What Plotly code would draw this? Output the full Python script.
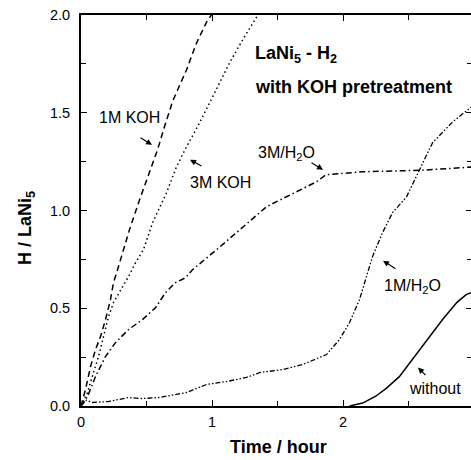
import plotly.graph_objects as go

# ---- data ----
koh1_t = [0.0, 0.034, 0.073, 0.111, 0.149, 0.187, 0.225, 0.248, 0.279, 0.324, 0.370, 0.447, 0.523, 0.584, 0.637, 0.70, 0.805, 0.882, 0.966, 0.996]
koh1_h = [0.0, 0.084, 0.202, 0.289, 0.355, 0.442, 0.544, 0.631, 0.697, 0.800, 0.902, 1.055, 1.193, 1.310, 1.428, 1.56, 1.719, 1.857, 1.974, 2.0]

koh3_t = [0.0, 0.05, 0.095, 0.134, 0.172, 0.210, 0.248, 0.317, 0.363, 0.416, 0.477, 0.546, 0.653, 0.729, 0.805, 0.905, 1.034, 1.134, 1.233, 1.340, 1.35]
koh3_h = [0.0, 0.069, 0.171, 0.253, 0.355, 0.457, 0.529, 0.610, 0.662, 0.733, 0.800, 0.937, 1.091, 1.224, 1.325, 1.448, 1.617, 1.755, 1.872, 1.990, 2.0]

h2o3_t = [0.0, 0.05, 0.111, 0.187, 0.263, 0.363, 0.469, 0.569, 0.645, 0.721, 0.798, 0.851, 1.034, 1.210, 1.416, 1.492, 1.668, 1.798, 1.870, 2.027, 2.149, 2.599, 2.98]
h2o3_h = [0.0, 0.049, 0.151, 0.253, 0.324, 0.391, 0.442, 0.503, 0.580, 0.631, 0.656, 0.697, 0.799, 0.902, 1.019, 1.045, 1.106, 1.147, 1.183, 1.193, 1.198, 1.206, 1.222]

h2o1_t = [0.0, 0.04, 0.088, 0.21, 0.363, 0.469, 0.592, 0.721, 0.805, 0.958, 1.111, 1.263, 1.363, 1.538, 1.691, 1.874, 1.973, 2.050, 2.126, 2.179, 2.225, 2.302, 2.378, 2.485, 2.584, 2.683, 2.836, 2.98]
h2o1_h = [0.0, 0.03, 0.018, 0.023, 0.043, 0.038, 0.043, 0.059, 0.069, 0.110, 0.125, 0.146, 0.171, 0.186, 0.212, 0.263, 0.340, 0.427, 0.544, 0.662, 0.764, 0.887, 0.989, 1.070, 1.208, 1.346, 1.453, 1.53]

wo_t = [2.05, 2.15, 2.25, 2.33, 2.43, 2.53, 2.66, 2.76, 2.87, 2.94, 2.98]
wo_h = [0.0, 0.015, 0.05, 0.09, 0.15, 0.237, 0.355, 0.442, 0.53, 0.57, 0.58]

y_tickvals = [0.0, 0.5, 1.0, 1.5, 2.0]
y_ticktext = ["0.0", "0.5", "1.0", "1.5", "2.0"]
x_tickvals = [0, 1, 2]
x_ticktext = ["0", "1", "2"]

FONT = "Liberation Sans, Arial, Helvetica, sans-serif"

fig = go.Figure()
lw = 1.5
fig.add_trace(go.Scatter(x=koh1_t, y=koh1_h, mode="lines", line=dict(color="black", width=lw, dash="6px,4px"), showlegend=False))
fig.add_trace(go.Scatter(x=koh3_t, y=koh3_h, mode="lines", line=dict(color="black", width=lw, dash="1.5px,3px"), showlegend=False))
fig.add_trace(go.Scatter(x=h2o3_t, y=h2o3_h, mode="lines", line=dict(color="black", width=lw, dash="6px,3px,1.5px,3px"), showlegend=False))
fig.add_trace(go.Scatter(x=h2o1_t, y=h2o1_h, mode="lines", line=dict(color="black", width=1.3, dash="5px,2px,1.5px,2px,1.5px,2px"), showlegend=False))
fig.add_trace(go.Scatter(x=wo_t, y=wo_h, mode="lines", line=dict(color="black", width=lw), showlegend=False))
# carrier for the right-hand tick axis
fig.add_trace(go.Scatter(x=[None], y=[None], yaxis="y2", showlegend=False, hoverinfo="skip"))

fig.update_layout(
    width=471, height=460,
    margin=dict(l=81, r=0, t=15, b=54),
    paper_bgcolor="white", plot_bgcolor="white",
    font=dict(family=FONT, color="black", size=14),
    xaxis=dict(range=[0, 2.977], showgrid=False, zeroline=False,
               showline=True, linecolor="black", linewidth=2, mirror="ticks",
               ticks="inside", ticklen=6, tickwidth=1.2, tickcolor="black",
               tickvals=x_tickvals, ticktext=x_ticktext,
               tickfont=dict(size=14.5, family=FONT), ticklabelstandoff=2,
               minor=dict(ticks="inside", ticklen=5, tickwidth=1.2, tickcolor="black", dtick=0.5, tick0=0)),
    yaxis=dict(range=[0, 2.0], showgrid=False, zeroline=False,
               showline=True, linecolor="black", linewidth=2, mirror=False,
               ticks="inside", ticklen=6, tickwidth=1.2, tickcolor="black",
               tickvals=y_tickvals, ticktext=y_ticktext,
               tickfont=dict(size=14.5, family=FONT), ticklabelstandoff=6,
               minor=dict(ticks="inside", ticklen=5, tickwidth=1.2, tickcolor="black", dtick=0.25, tick0=0)),
    yaxis2=dict(range=[0, 2.0], overlaying="y", side="right", anchor="x",
                showgrid=False, zeroline=False, showline=False, showticklabels=False,
                ticks="inside", ticklen=5, tickwidth=1.2, tickcolor="black",
                tickvals=y_tickvals,
                minor=dict(ticks="inside", ticklen=4, tickwidth=1.2, tickcolor="black", dtick=0.25, tick0=0)),
)

def X(px):
    return (px - 81) / 131.0

def Y(py):
    return (406.5 - py) / 195.75

labels = [
    ("LaNi<sub>5</sub> - H<sub>2</sub>", 253, 55, 18, True),
    ("with KOH pretreatment", 253, 87, 18, True),
    ("1M KOH", 97, 118, 16, False),
    ("3M KOH", 188, 183, 16, False),
    ("3M/H<sub>2</sub>O", 256, 154, 16, False),
    ("1M/H<sub>2</sub>O", 382, 287, 16, False),
    ("without", 407, 389, 16, False),
]
for txt, px, py, sz, bold in labels:
    fig.add_annotation(x=X(px), y=Y(py), xref="x", yref="y", text=("<b>%s</b>" % txt) if bold else txt,
                       showarrow=False, xanchor="left", yanchor="middle",
                       font=dict(size=sz, family=FONT, color="black"))

# arrows: head (px,py), tail offset (ax, ay) in pixels
arrows = [
    (152, 145, -13, -8),
    (190, 160, 13, 7),
    (323, 170, -13, -8),
    (383, 261, 14, 9),
    (418, 368, 9, 9),
]
for px, py, ax, ay in arrows:
    fig.add_annotation(x=X(px), y=Y(py), xref="x", yref="y", text="", showarrow=True,
                       ax=ax, ay=ay, axref="pixel", ayref="pixel",
                       arrowhead=2, arrowsize=1.0, arrowwidth=1.2, arrowcolor="black", standoff=0)

# axis titles
fig.add_annotation(x=(278 - 81) / 390.0, y=(406 - 447) / 391.0, xref="paper", yref="paper",
                   text="<b>Time / hour</b>", showarrow=False, xanchor="center", yanchor="middle",
                   font=dict(size=18, family=FONT, color="black"))
fig.add_annotation(x=(27 - 81) / 390.0, y=(406 - 228) / 391.0, xref="paper", yref="paper",
                   text="<b>H / LaNi<sub>5</sub></b>", showarrow=False, textangle=-90,
                   xanchor="center", yanchor="middle",
                   font=dict(size=18, family=FONT, color="black"))

fig.write_html("out.html")
